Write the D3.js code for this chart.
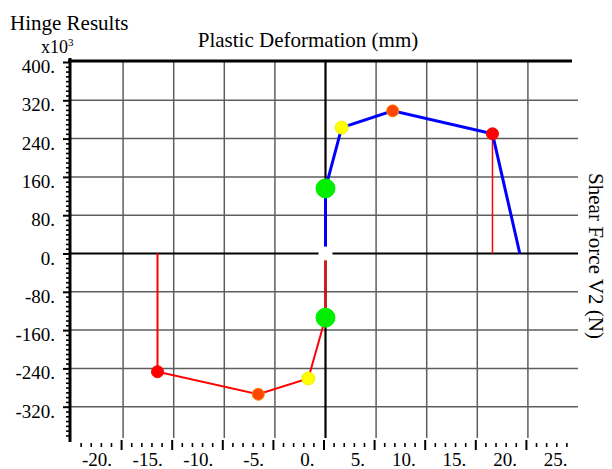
<!DOCTYPE html>
<html>
<head>
<meta charset="utf-8">
<script src="https://cdn.jsdelivr.net/npm/d3@7"></script>
<style>
  html, body { margin: 0; padding: 0; background: #fff; }
  svg { display: block; }
  text { font-family: "Liberation Serif", "Times New Roman", serif; fill: #000; }
</style>
</head>
<body>
<svg id="chart" width="612" height="469"></svg>
<script>
// ---------- data ----------
const xTickValues = [-20, -15, -10, -5, 0, 5, 10, 15, 20, 25];
const xTickLabels = ["-20.", "-15.", "-10.", "-5.", "0.", "5.", "10.", "15.", "20.", "25."];
const yTickValues = [400, 320, 240, 160, 80, 0, -80, -160, -240, -320];
const yTickLabels = ["400.", "320.", "240.", "160.", "80.", "0.", "-80.", "-160.", "-240.", "-320."];

// positive (blue) backbone: plastic deformation (mm) / shear force (x10^3 N)
const posDef   = [0, 0, 1.6, 6.64, 16.5, 19.2];
const posForce = [0, 136, 263, 298, 250, 0];
// negative (red) backbone
const negDef   = [0, 0, -1.7, -6.64, -16.6, -16.6];
const negForce = [0, -134, -261, -294, -247, 0];
// red drop line on positive side
const dropDef   = [16.5, 16.5];
const dropForce = [250, 0];
// hinge state markers
const markerDef   = [0, 1.6, 6.64, 16.5, 0, -1.7, -6.64, -16.6];
const markerForce = [136, 263, 298, 250, -134, -261, -294, -247];
const markerState = ["IO", "LS", "CP", "C", "IO", "LS", "CP", "C"];

// ---------- layout / scales ----------
const svg = d3.select("#chart");
const x = d3.scaleLinear().domain([-25, 25]).range([72.5, 578.5]);
const y = d3.scaleLinear().domain([-400, 400]).range([445, 62]);
const plotBottom = 438;
const plotRight = 578;
const axisX = 70;

const stateColor = { IO: "#00ee00", LS: "#ffff00", CP: "#ff4500", C: "#ff0000" };
const stateR = { IO: 9.5, LS: 6.5, CP: 6, C: 6 };
const stateStroke = { IO: "#00ee00", LS: "#f2f200", CP: "#ff8a00", C: "#ff0000" };

// ---------- grid ----------
const g = svg.append("g");
g.selectAll("line.vgrid").data(xTickValues.filter(v => v !== 0 && v < 25)).enter()
  .append("line").attr("class", "vgrid")
  .attr("x1", d => x(d)).attr("x2", d => x(d))
  .attr("y1", y(400)).attr("y2", plotBottom)
  .attr("stroke", "#5e5e5e").attr("stroke-width", 1.5);
g.selectAll("line.hgrid").data(yTickValues.filter(v => v !== 0 && v !== 400)).enter()
  .append("line").attr("class", "hgrid")
  .attr("x1", axisX).attr("x2", plotRight)
  .attr("y1", d => y(d)).attr("y2", d => y(d))
  .attr("stroke", "#5e5e5e").attr("stroke-width", 1.5);
// zero lines
g.append("line").attr("x1", axisX).attr("x2", plotRight)
  .attr("y1", y(0)).attr("y2", y(0)).attr("stroke", "#000").attr("stroke-width", 2.2);
g.append("line").attr("x1", x(0)).attr("x2", x(0))
  .attr("y1", y(400)).attr("y2", plotBottom).attr("stroke", "#000").attr("stroke-width", 2.2);
// top border
g.append("line").attr("x1", axisX - 2).attr("x2", 572)
  .attr("y1", y(400) - 1).attr("y2", y(400) - 1).attr("stroke", "#000").attr("stroke-width", 3);

// ---------- left ruler (y axis) ----------
const yAxis = d3.axisLeft(y)
  .tickValues(d3.range(-380, 401, 10))
  .tickSize(4).tickFormat("");
const ya = svg.append("g").attr("transform", `translate(${axisX},0)`).call(yAxis);
ya.select(".domain").remove();
ya.selectAll(".tick line").attr("stroke", "#000").attr("stroke-width", 1.6);
ya.selectAll(".tick").filter(d => d % 80 === 0).select("line")
  .attr("x1", 0).attr("x2", -7).attr("stroke-width", 2);
svg.append("line").attr("x1", axisX).attr("x2", axisX)
  .attr("y1", 58).attr("y2", 442).attr("stroke", "#000").attr("stroke-width", 3);
svg.selectAll("text.ylab").data(yTickValues).enter()
  .append("text").attr("class", "ylab")
  .attr("x", 55).attr("y", d => y(d) + 11)
  .attr("text-anchor", "end").attr("font-size", 19)
  .text((d, i) => yTickLabels[i]);

// ---------- bottom ruler (x axis) ----------
const xAxis = d3.axisBottom(x)
  .tickValues(d3.range(-24, 25, 1))
  .tickSize(4).tickFormat("");
const xa = svg.append("g").attr("transform", "translate(-2,443)").call(xAxis);
xa.select(".domain").remove();
xa.selectAll(".tick line").attr("stroke", "#000").attr("stroke-width", 1.6);
xa.selectAll(".tick").filter(d => d % 5 === 0).select("line")
  .attr("y1", -3).attr("y2", 7).attr("stroke-width", 2);
svg.selectAll("text.xlab").data(xTickValues).enter()
  .append("text").attr("class", "xlab")
  .attr("x", d => x(d) - 11).attr("y", 466)
  .attr("text-anchor", "end").attr("font-size", 19)
  .text((d, i) => xTickLabels[i]);

// ---------- curves ----------
const line = d3.line().x(d => x(d[0])).y(d => y(d[1]));
svg.append("path").datum(negDef.map((d, i) => [d, negForce[i]]))
  .attr("d", line).attr("fill", "none").attr("stroke", "#ff0000").attr("stroke-width", 2);
svg.append("path").datum(dropDef.map((d, i) => [d, dropForce[i]]))
  .attr("d", line).attr("fill", "none").attr("stroke", "#ff0000").attr("stroke-width", 1.5);
svg.append("path").datum(posDef.map((d, i) => [d, posForce[i]]))
  .attr("d", line).attr("fill", "none").attr("stroke", "#0000ff").attr("stroke-width", 3);

// origin (white) marker
svg.append("circle").attr("cx", x(0)).attr("cy", y(0)).attr("r", 7).attr("fill", "#fff");

// ---------- markers ----------
svg.selectAll("circle.mk").data(markerDef.map((d, i) => ({ d, f: markerForce[i], s: markerState[i] })))
  .enter().append("circle").attr("class", "mk")
  .attr("cx", p => x(p.d)).attr("cy", p => y(p.f))
  .attr("r", p => stateR[p.s])
  .attr("fill", p => stateColor[p.s])
  .attr("stroke", p => stateStroke[p.s]).attr("stroke-width", 1);

// ---------- titles ----------
svg.append("text").attr("x", 10).attr("y", 30).attr("font-size", 21).text("Hinge Results");
const mult = svg.append("text").attr("x", 41).attr("y", 53).attr("font-size", 18);
mult.append("tspan").text("x10");
mult.append("tspan").attr("font-size", 11).attr("dy", -7).text("3");
svg.append("text").attr("x", 308).attr("y", 47).attr("text-anchor", "middle")
  .attr("font-size", 21).text("Plastic Deformation (mm)");
svg.append("text").attr("transform", "translate(589,256) rotate(90)")
  .attr("text-anchor", "middle").attr("font-size", 21).text("Shear Force V2 (N)");
</script>
</body>
</html>
